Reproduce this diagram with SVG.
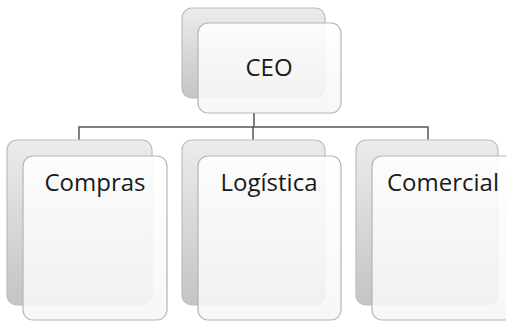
<svg xmlns="http://www.w3.org/2000/svg" width="506" height="322" viewBox="0 0 506 322">
<defs>
<linearGradient id="gBack" x1="0" y1="0" x2="0" y2="1">
<stop offset="0" stop-color="#ececec"/>
<stop offset="1" stop-color="#c4c4c4"/>
</linearGradient>
<linearGradient id="gFront" x1="0" y1="0" x2="0" y2="1">
<stop offset="0" stop-color="#ffffff"/>
<stop offset="1" stop-color="#f6f6f6"/>
</linearGradient>
<style>
.back{fill:url(#gBack);stroke:#bdbdbd;stroke-width:1.2}
.front{fill:url(#gFront);fill-opacity:0.88;stroke:#b5b5b5;stroke-width:1.2}
.lbl{font-family:"Open Sans","Noto Sans",sans-serif;font-size:24px;fill:#1a1a1a;text-anchor:middle}
.conn{fill:none;stroke:#555555;stroke-width:1.5}
</style>
</defs>
<rect width="506" height="322" fill="#ffffff"/>
<g id="connectors">
<path class="conn" d="M254 113 V127"/>
<path class="conn" d="M79 140 V127 H428 V140"/>
<path class="conn" d="M253 127 V140"/>
</g>
<g id="ceo">
<rect class="back" x="182" y="8" width="143" height="90" rx="10"/>
<rect class="front" x="198" y="23" width="143" height="90" rx="10"/>
<text class="lbl" x="269" y="76">CEO</text>
</g>
<g id="compras">
<rect class="back" x="7" y="140" width="145" height="165" rx="10"/>
<rect class="front" x="23" y="156" width="144" height="164" rx="10"/>
<text class="lbl" x="95" y="191">Compras</text>
</g>
<g id="logistica">
<rect class="back" x="182" y="140" width="143" height="165" rx="10"/>
<rect class="front" x="198" y="156" width="143" height="164" rx="10"/>
<text class="lbl" x="269" y="191">Logística</text>
</g>
<g id="comercial">
<rect class="back" x="356" y="140" width="142" height="165" rx="10"/>
<rect class="front" x="372" y="156" width="143" height="164" rx="10"/>
<text class="lbl" x="443" y="191">Comercial</text>
</g>
</svg>
